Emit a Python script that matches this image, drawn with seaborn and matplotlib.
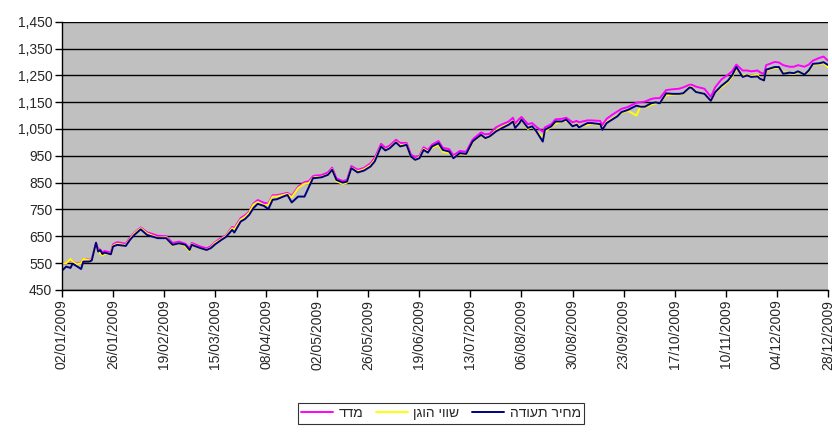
import pandas as pd
import numpy as np
import matplotlib
matplotlib.use('Agg')
import matplotlib.pyplot as plt
import matplotlib.dates as mdates
import matplotlib.ticker as mticker
import seaborn as sns

# Data
dates = [
    '2009-01-02', '2009-01-04', '2009-01-06', '2009-01-07', '2009-01-09', '2009-01-11',
    '2009-01-12', '2009-01-15', '2009-01-16', '2009-01-18', '2009-01-19', '2009-01-20',
    '2009-01-21', '2009-01-22', '2009-01-25', '2009-01-26', '2009-01-28', '2009-02-01',
    '2009-02-03', '2009-02-05', '2009-02-08', '2009-02-11', '2009-02-16', '2009-02-20',
    '2009-02-23', '2009-02-26', '2009-03-01', '2009-03-03', '2009-03-04', '2009-03-08',
    '2009-03-11', '2009-03-13', '2009-03-15', '2009-03-18', '2009-03-20', '2009-03-23',
    '2009-03-24', '2009-03-27', '2009-03-29', '2009-03-31', '2009-04-02', '2009-04-04',
    '2009-04-07', '2009-04-09', '2009-04-11', '2009-04-13', '2009-04-16', '2009-04-18',
    '2009-04-20', '2009-04-23', '2009-04-26', '2009-04-28', '2009-04-30', '2009-05-01',
    '2009-05-04', '2009-05-07', '2009-05-09', '2009-05-11', '2009-05-14', '2009-05-16',
    '2009-05-18', '2009-05-21', '2009-05-24', '2009-05-27', '2009-05-29', '2009-06-01',
    '2009-06-03', '2009-06-05', '2009-06-08', '2009-06-10', '2009-06-13', '2009-06-15',
    '2009-06-17', '2009-06-19', '2009-06-21', '2009-06-23', '2009-06-25', '2009-06-28',
    '2009-06-30', '2009-07-03', '2009-07-05', '2009-07-08', '2009-07-11', '2009-07-14',
    '2009-07-15', '2009-07-18', '2009-07-20', '2009-07-22', '2009-07-25', '2009-07-28',
    '2009-07-31', '2009-08-02', '2009-08-03', '2009-08-05', '2009-08-06', '2009-08-09',
    '2009-08-11', '2009-08-13', '2009-08-16', '2009-08-17', '2009-08-20', '2009-08-22',
    '2009-08-25', '2009-08-27', '2009-08-30', '2009-09-01', '2009-09-02', '2009-09-06',
    '2009-09-08', '2009-09-12', '2009-09-13', '2009-09-15', '2009-09-18', '2009-09-20',
    '2009-09-22', '2009-09-25', '2009-09-29', '2009-10-01', '2009-10-03', '2009-10-06',
    '2009-10-08', '2009-10-10', '2009-10-13', '2009-10-16', '2009-10-19', '2009-10-21',
    '2009-10-24', '2009-10-25', '2009-10-27', '2009-10-31', '2009-11-03', '2009-11-05',
    '2009-11-08', '2009-11-11', '2009-11-13', '2009-11-15', '2009-11-18', '2009-11-20',
    '2009-11-22', '2009-11-25', '2009-11-26', '2009-11-28', '2009-11-29', '2009-12-03',
    '2009-12-05', '2009-12-07', '2009-12-10', '2009-12-12', '2009-12-14', '2009-12-17',
    '2009-12-19', '2009-12-21', '2009-12-24', '2009-12-26', '2009-12-28',
]

# certificate price (navy)
price = [
    522, 537, 532, 548, 538, 528, 555, 556, 560, 626, 593, 598,
    584, 589, 583, 612, 618, 614, 637, 655, 676, 655, 643, 643,
    618, 624, 618, 599, 618, 606, 599, 606, 620, 637, 647, 674,
    664, 705, 714, 730, 755, 771, 763, 751, 786, 788, 798, 804,
    776, 798, 798, 833, 867, 867, 870, 879, 898, 860, 850, 854,
    904, 888, 895, 910, 929, 985, 970, 978, 1000, 985, 991, 947,
    935, 941, 972, 962, 985, 997, 972, 966, 941, 960, 957, 1003,
    1010, 1028, 1016, 1022, 1041, 1054, 1066, 1078, 1054, 1072, 1085, 1054,
    1060, 1041, 1003, 1047, 1060, 1078, 1078, 1085, 1060, 1066, 1056, 1072,
    1072, 1068, 1047, 1072, 1087, 1097, 1113, 1121, 1137, 1133, 1133, 1146,
    1149, 1146, 1183, 1181, 1181, 1183, 1205, 1203, 1188, 1181, 1155, 1187,
    1211, 1230, 1250, 1281, 1244, 1250, 1244, 1246, 1238, 1231, 1271, 1281,
    1281, 1256, 1260, 1258, 1265, 1253, 1268, 1293, 1295, 1299, 1289,
]

# fair value (yellow)
fair = [
    548, 550, 565, 556, 545, 550, 566, 560, 562, 620, 598, 585,
    578, 585, 585, 615, 622, 617, 640, 660, 680, 660, 645, 646,
    615, 625, 612, 595, 620, 605, 600, 608, 625, 640, 650, 680,
    675, 712, 722, 738, 768, 778, 765, 768, 798, 798, 804, 808,
    795, 830, 846, 848, 868, 870, 872, 880, 900, 855, 845, 850,
    905, 892, 900, 915, 935, 985, 972, 980, 1002, 990, 992, 945,
    935, 945, 975, 966, 980, 990, 965, 960, 945, 958, 955, 1000,
    1008, 1025, 1015, 1020, 1045, 1058, 1068, 1080, 1058, 1075, 1085, 1050,
    1058, 1040, 1020, 1040, 1058, 1070, 1078, 1080, 1062, 1068, 1060, 1065,
    1070, 1065, 1050, 1075, 1090, 1100, 1110, 1118, 1100, 1135, 1130, 1140,
    1145, 1148, 1175, 1178, 1180, 1180, 1208, 1205, 1190, 1180, 1155, 1185,
    1205, 1225, 1245, 1275, 1250, 1252, 1248, 1252, 1240, 1232, 1268, 1278,
    1278, 1262, 1258, 1255, 1262, 1255, 1265, 1290, 1292, 1295, 1280,
]

# index (magenta)
index_vals = [
    548, 550, 562, 556, 545, 552, 566, 562, 565, 624, 603, 600,
    590, 595, 590, 620, 628, 622, 645, 663, 683, 665, 652, 650,
    625, 630, 622, 605, 625, 612, 605, 613, 628, 645, 652, 685,
    680, 718, 728, 742, 772, 785, 775, 772, 803, 803, 808, 812,
    800, 835, 852, 855, 874, 876, 878, 888, 906, 866, 856, 860,
    912, 898, 905, 922, 942, 995, 980, 988, 1010, 998, 998, 955,
    945, 950, 982, 972, 992, 1005, 980, 975, 952, 968, 965, 1010,
    1018, 1037, 1030, 1032, 1056, 1068, 1078, 1092, 1070, 1088, 1095, 1068,
    1072, 1058, 1040, 1056, 1068, 1086, 1088, 1092, 1075, 1080, 1075, 1082,
    1082, 1080, 1065, 1088, 1105, 1115, 1125, 1132, 1148, 1150, 1152, 1162,
    1165, 1165, 1195, 1198, 1200, 1205, 1215, 1215, 1208, 1200, 1170, 1205,
    1235, 1252, 1265, 1290, 1268, 1268, 1265, 1268, 1262, 1255, 1288, 1300,
    1298, 1288, 1282, 1282, 1288, 1282, 1290, 1305, 1315, 1320, 1305,
]

y_ticks = [450, 550, 650, 750, 850, 950, 1050, 1150, 1250, 1350, 1450]

# Hebrew labels (matplotlib has no bidi, so reverse for visual order)
label_price = 'מחיר תעודה'
label_fair = 'שווי הוגן'
label_index = 'מדד'

df = pd.DataFrame({'date': pd.to_datetime(dates), 'price': price,
                   'fair': fair, 'index': index_vals})

sns.set_style('white')
plt.rcParams['font.family'] = ['Liberation Sans', 'DejaVu Sans']
plt.rcParams['font.size'] = 10

fig = plt.figure(figsize=(8.32, 4.34), dpi=100)
ax = fig.add_axes([0.0745, 0.332, 0.9205, 0.618])
ax.set_facecolor('#C0C0C0')

sns.lineplot(data=df, x='date', y='index', ax=ax, color='#FF00FF', lw=1.4,
             label=label_index[::-1])
sns.lineplot(data=df, x='date', y='fair', ax=ax, color='#FFFF00', lw=1.4,
             label=label_fair[::-1])
sns.lineplot(data=df, x='date', y='price', ax=ax, color='#000080', lw=1.4,
             label=label_price[::-1])

ax.set_ylim(450, 1450)
ax.set_yticks(y_ticks)
ax.yaxis.set_major_formatter(mticker.FuncFormatter(lambda v, p: f'{int(v):,}'))
ax.yaxis.grid(True, color='black', lw=1)
ax.set_axisbelow(True)

xticks = pd.date_range('2009-01-02', periods=16, freq='24D')
ax.set_xticks(xticks)
ax.xaxis.set_major_formatter(mdates.DateFormatter('%d/%m/%Y'))
ax.set_xlim(xticks[0], xticks[-1])
plt.setp(ax.get_xticklabels(), rotation=90)

ax.set_xlabel('')
ax.set_ylabel('')
for s in ['top', 'right']:
    ax.spines[s].set_visible(False)
for s in ['left', 'bottom']:
    ax.spines[s].set_color('black')
    ax.spines[s].set_linewidth(1)
ax.tick_params(axis='both', which='major', direction='out', length=5,
               width=1, color='black', labelsize=10, pad=2)
ax.tick_params(left=True, bottom=True)

ax.get_legend().remove()
handles, labels = ax.get_legend_handles_labels()
leg = fig.legend(handles, labels, loc='center', bbox_to_anchor=(0.53, 0.048),
                 ncol=3, frameon=True, fancybox=False, edgecolor='black',
                 handlelength=2.3, handletextpad=0.4, columnspacing=0.9,
                 borderpad=0.25, fontsize=10)
leg.get_frame().set_linewidth(0.8)

fig.savefig('out.png', dpi=100)
